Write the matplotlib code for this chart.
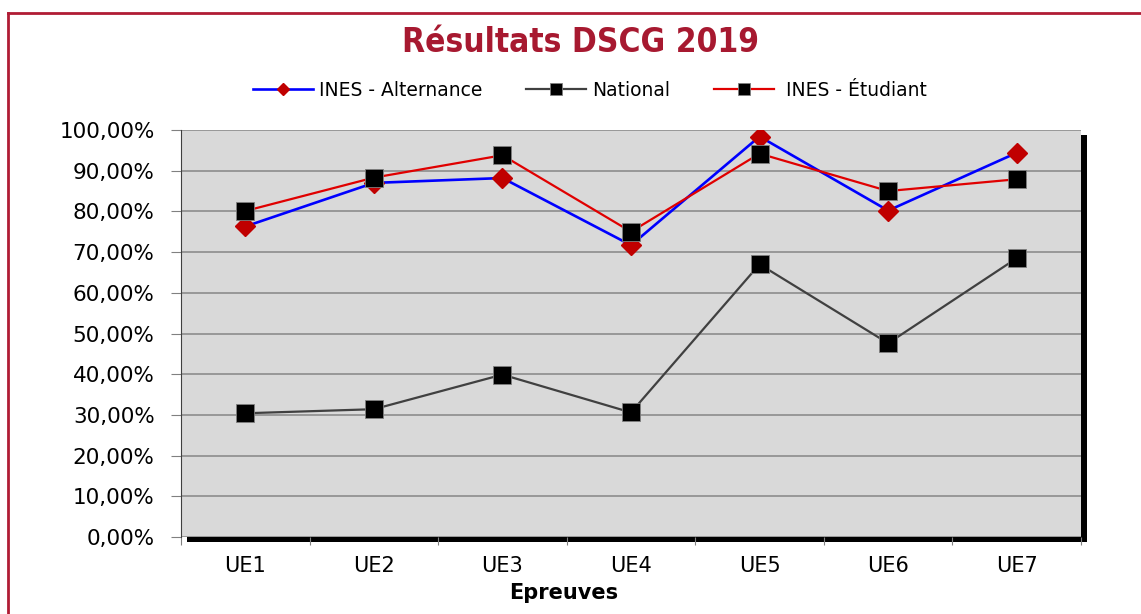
import numpy as np
import matplotlib.pyplot as plt
from matplotlib.patches import Rectangle
from matplotlib.lines import Line2D
from matplotlib.ticker import FuncFormatter, FixedLocator

# Data (pass rates, %)
epreuves = ["UE1", "UE2", "UE3", "UE4", "UE5", "UE6", "UE7"]
ines_alternance = [76.3, 87.0, 88.2, 71.7, 98.4, 80.2, 94.4]
national = [30.4, 31.4, 39.9, 30.6, 67.0, 47.6, 68.5]
ines_etudiant = [80.1, 88.3, 93.8, 75.0, 94.2, 85.0, 87.9]
y_ticks = np.arange(0, 101, 10)

W, H = 1141, 614
fig = plt.figure(figsize=(W / 100, H / 100), dpi=100)
fig.patch.set_facecolor('white')

# axes box in pixels
left, right, top, bottom = 181, 1081, 130, 537
ax = fig.add_axes([left / W, 1 - bottom / H, (right - left) / W, (bottom - top) / H])
ax.set_facecolor('#d9d9d9')

# 3D-ish shadow behind the plot area
shadow = Rectangle(((left + 6) / W, 1 - (bottom + 5) / H), (right - left) / W, (bottom - top) / H,
                   transform=fig.transFigure, facecolor='black', edgecolor='none', zorder=-1)
fig.patches.append(shadow)

# red frame
red = '#b01c34'
fig.add_artist(Line2D([8 / W, 1], [1 - 13 / H, 1 - 13 / H], transform=fig.transFigure, color=red, lw=2))
fig.add_artist(Line2D([8 / W, 8 / W], [0, 1 - 13 / H], transform=fig.transFigure, color=red, lw=2))

x = np.arange(len(epreuves))
ax.plot(x, ines_alternance, color='#0000ff', lw=1.9, marker='D', markersize=10,
        markerfacecolor='#c00000', markeredgecolor='#c00000', label='INES - Alternance', zorder=3)
ax.plot(x, national, color='#404040', lw=1.6, marker='s', markersize=13,
        markerfacecolor='black', markeredgecolor='#808080', markeredgewidth=0.6, label='National', zorder=4)
ax.plot(x, ines_etudiant, color='#e00000', lw=1.6, marker='s', markersize=13,
        markerfacecolor='black', markeredgecolor='#808080', markeredgewidth=0.6, label=' INES - Étudiant', zorder=5)

ax.set_xlim(-0.5, len(epreuves) - 0.5)
ax.set_ylim(0, 100)

ax.set_yticks(y_ticks)
ax.yaxis.set_major_formatter(FuncFormatter(lambda v, p: f"{v:.2f}".replace('.', ',') + '%'))
ax.grid(axis='y', color='#868686', lw=1.1)
ax.set_axisbelow(True)

ax.set_xticks(x)
ax.set_xticklabels(epreuves)
ax.xaxis.set_minor_locator(FixedLocator(np.arange(-0.5, len(epreuves), 1)))
ax.tick_params(axis='x', which='major', length=0, pad=14, labelsize=15)
ax.tick_params(axis='x', which='minor', length=6, color='#808080', width=0.8)
ax.tick_params(axis='y', length=7, color='#808080', width=0.8, labelsize=15.5, pad=12)

for s in ['top', 'right', 'bottom']:
    ax.spines[s].set_visible(False)
ax.spines['left'].set_color('#404040')
ax.spines['left'].set_linewidth(0.8)

fig.text(564 / W, 1 - 593 / H, "Epreuves", ha='center', va='center', fontsize=15, fontweight='bold')

fig.text(580 / W, 1 - 43 / H, "Résultats DSCG 2019", ha='center', va='center', fontsize=24,
         fontweight='bold', color='#a71930', family='DejaVu Sans', fontstretch='condensed')

fig.legend(loc='center', bbox_to_anchor=(590 / W, 1 - 90 / H), ncol=3, frameon=False,
           fontsize=13.5, handlelength=3.2, handletextpad=0.35, columnspacing=2.3, markerscale=0.65)

fig.savefig('out.png', dpi=100)
